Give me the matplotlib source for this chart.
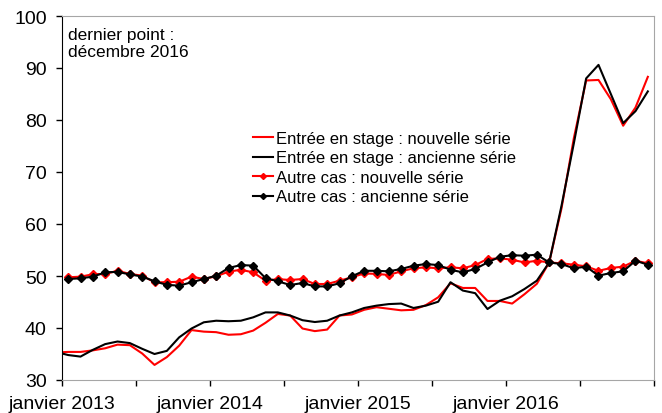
import matplotlib
matplotlib.use("Agg")
import matplotlib.pyplot as plt
import numpy as np

plt.rcParams["font.family"] = ["Liberation Sans", "DejaVu Sans"]

# monthly index: 0 = janvier 2013 ... 47 = décembre 2016 ; entrée series start one month earlier
tick_pos = [-0.5, 5.5, 11.5, 17.5, 23.5, 29.5, 35.5, 41.5, 47.5]
tick_labels = ["janvier 2013", "", "janvier 2014", "", "janvier 2015", "", "janvier 2016", "", ""]

entree_nouvelle = [35.3, 35.4, 35.4, 35.7, 36.1, 36.8, 36.7, 35.1, 32.9, 34.4, 36.6, 39.6, 39.3,
                   39.2, 38.7, 38.8, 39.5, 41.0, 42.7, 42.4, 39.9, 39.4, 39.7, 42.4, 42.6, 43.5,
                   44.0, 43.7, 43.4, 43.5, 44.4, 45.9, 48.6, 47.7, 47.7, 45.2, 45.2, 44.7, 46.5,
                   48.5, 52.6, 63.0, 76.5, 87.6, 87.7, 84.0, 78.9, 82.4, 88.3]
entree_ancienne = [35.4, 34.8, 34.5, 35.8, 36.9, 37.4, 37.1, 36.0, 35.0, 35.6, 38.2, 39.9, 41.1,
                   41.4, 41.3, 41.4, 42.05, 43.0, 43.0, 42.4, 41.5, 41.15, 41.4, 42.4, 43.0, 43.85,
                   44.3, 44.6, 44.7, 43.85, 44.3, 45.05, 48.8, 47.2, 46.7, 43.65, 45.25, 46.1, 47.5,
                   49.1, 52.6, 63.5, 75.5, 88.0, 90.6, 85.0, 79.4, 81.7, 85.5]
autre_nouvelle = [49.75, 49.87, 50.33, 50.4, 51.0, 50.4, 50.06, 48.8, 48.8, 48.9, 49.87, 49.42,
                  49.94, 50.83, 51.2, 50.7, 49.1, 49.4, 49.23, 49.42, 48.46, 48.46, 49.1, 49.75,
                  50.5, 50.4, 50.2, 50.9, 51.48, 51.67, 51.48, 51.67, 51.48, 52.1, 53.27, 53.4,
                  53.13, 52.6, 52.94, 52.6, 52.44, 52.17, 51.86, 51.0, 51.54, 51.8, 52.94, 52.44]
autre_ancienne = [49.42, 49.56, 49.87, 50.7, 50.8, 50.3, 49.9, 48.98, 48.3, 48.14, 48.8, 49.42,
                  50.06, 51.54, 52.1, 52.0, 49.6, 48.98, 48.27, 48.65, 48.0, 48.0, 48.6, 49.94,
                  51.0, 51.0, 50.9, 51.35, 51.98, 52.3, 52.1, 51.2, 50.7, 51.35, 52.6, 53.7,
                  54.0, 53.9, 54.1, 52.6, 52.3, 51.48, 51.8, 50.06, 50.58, 50.9, 52.94, 52.17]

x_autre = np.arange(len(autre_nouvelle))
x_entree = np.arange(len(entree_nouvelle)) - 1

fig = plt.figure(figsize=(6.62, 4.14), dpi=100)
ax = fig.add_axes([62/662, 33/414, 592/662, 364/414])

ax.plot(x_entree, entree_nouvelle, color="#ff0000", lw=1.5, label="Entrée en stage : nouvelle série")
ax.plot(x_entree, entree_ancienne, color="black", lw=1.5, label="Entrée en stage : ancienne série")
ax.plot(x_autre, autre_nouvelle, color="#ff0000", lw=1.5, marker="D", ms=3.8, label="Autre cas : nouvelle série")
ax.plot(x_autre, autre_ancienne, color="black", lw=1.5, marker="D", ms=3.8, label="Autre cas : ancienne série")

ax.set_xlim(-0.5, 47.5)
ax.set_ylim(30, 100)
ax.set_yticks(range(30, 101, 10))
ax.set_xticks(tick_pos)
ax.set_xticklabels(tick_labels)
ax.tick_params(axis="both", labelsize=14, direction="out", length=4, width=1, color="black")
ax.tick_params(axis="y", pad=7)
ax.tick_params(axis="x", pad=7)
ax.spines["left"].set_color("black")
for s in ("top", "right", "bottom"):
    ax.spines[s].set_color("#a6a6a6")

ax.text(6/592, 1-11/364, "dernier point :\ndécembre 2016", transform=ax.transAxes,
        fontsize=12.5, va="top", ha="left", linespacing=1.15)

ax.legend(loc="upper left", bbox_to_anchor=(253/662, 1-132/414), bbox_transform=fig.transFigure,
          frameon=False, fontsize=12, handlelength=1.2, handletextpad=0.15, labelspacing=0.27,
          borderpad=0, borderaxespad=0, markerscale=0.8)

fig.savefig("out.png", dpi=100)
